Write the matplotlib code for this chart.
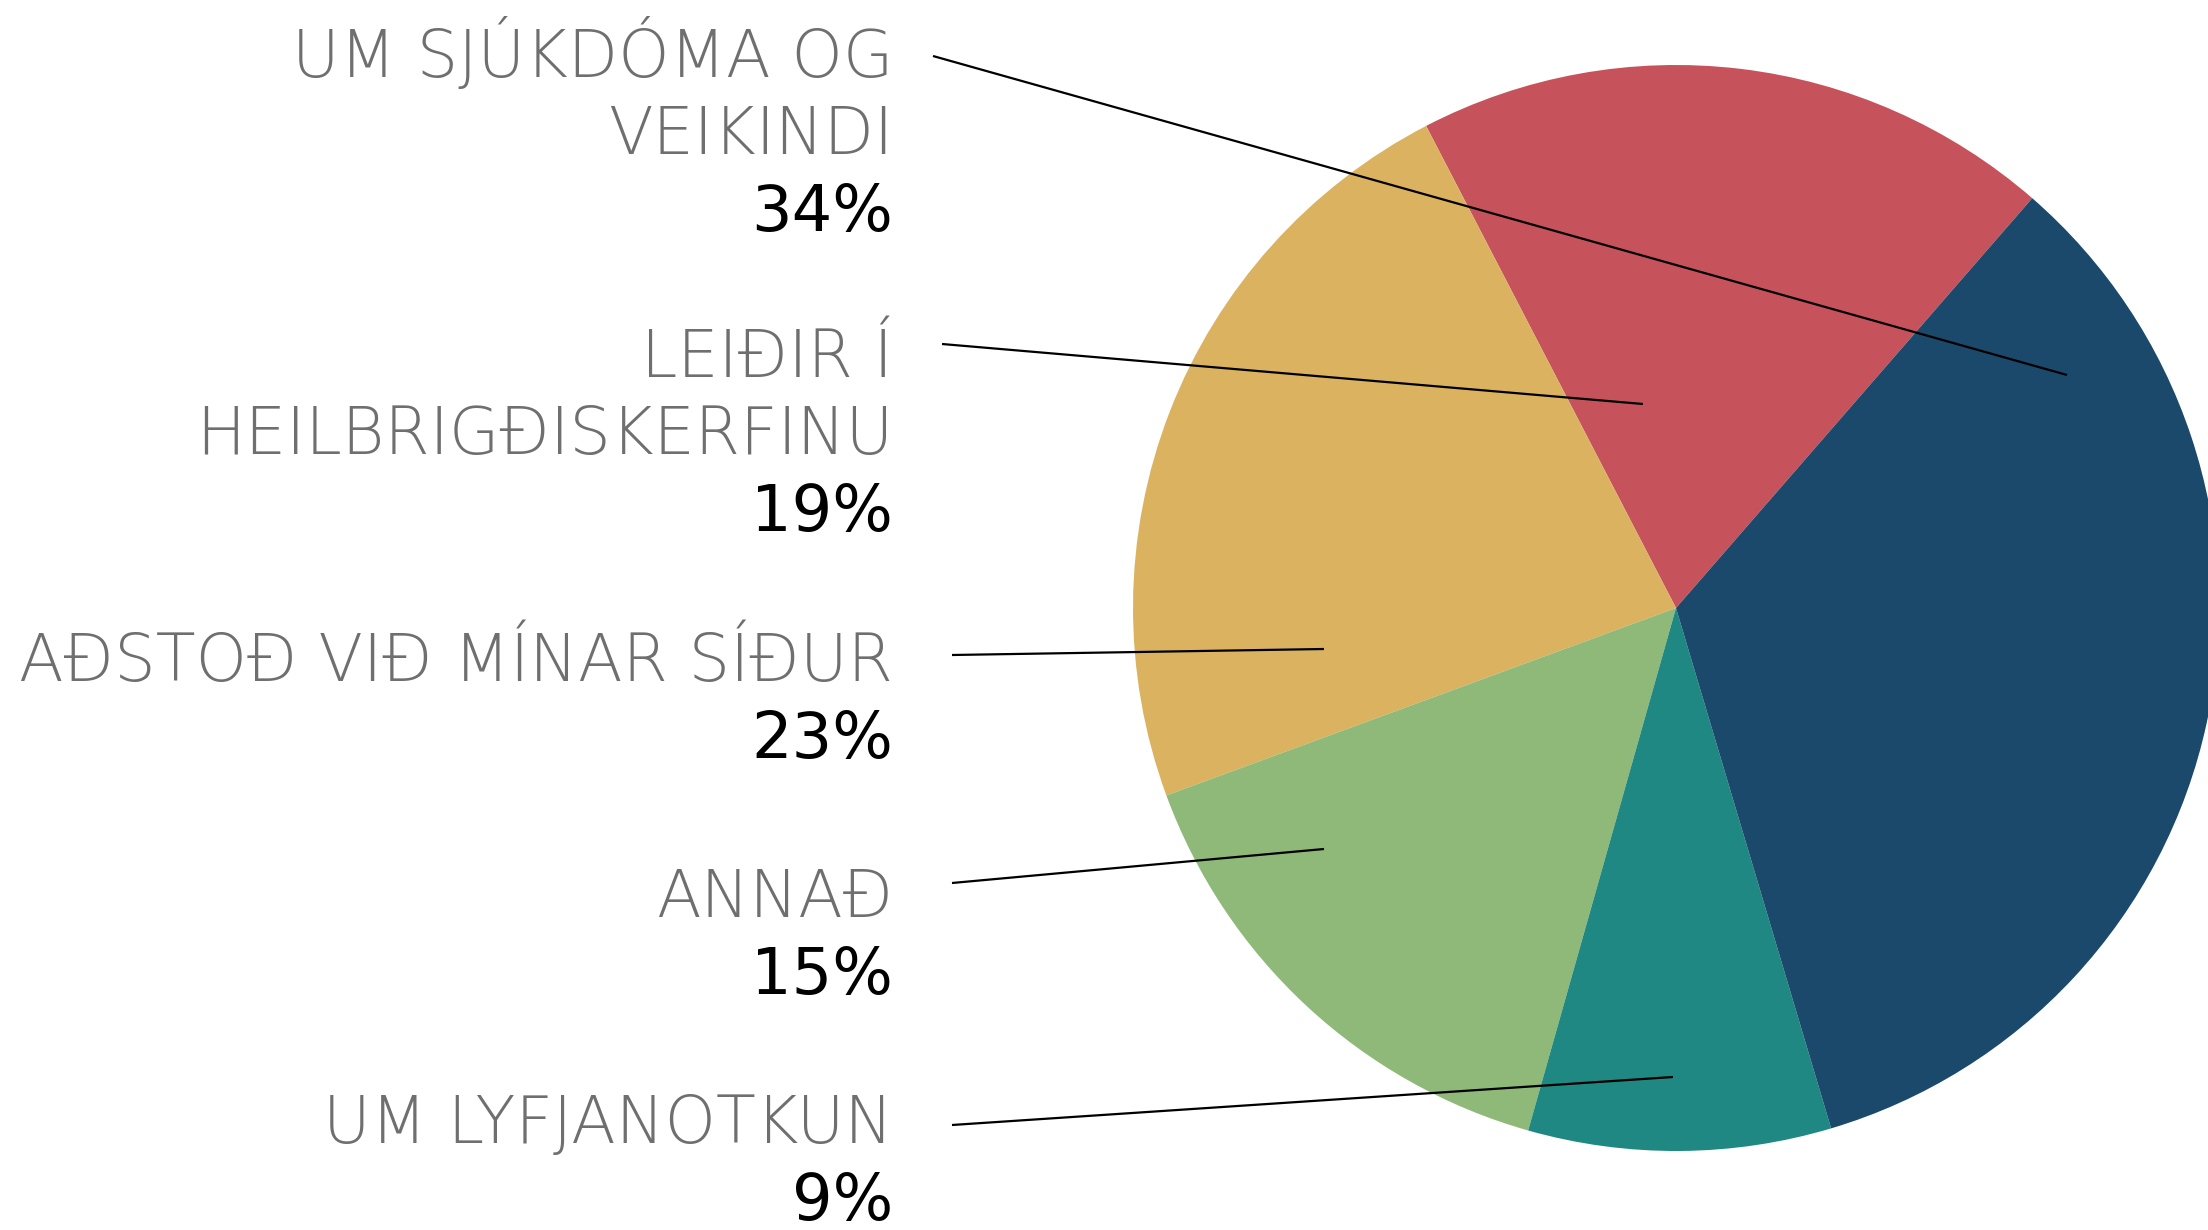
import matplotlib
matplotlib.use("Agg")
import matplotlib.pyplot as plt
import numpy as np

# ---- data (counter-clockwise order starting at the red slice) ----
categories = ["LEIÐIR Í\nHEILBRIGÐISKERFINU", "AÐSTOÐ VIÐ MÍNAR SÍÐUR", "ANNAÐ",
              "UM LYFJANOTKUN", "UM SJÚKDÓMA OG\nVEIKINDI"]
values = [19, 23, 15, 9, 34]
colors = ["#C6535C", "#DBB25F", "#8FB979", "#208882", "#1B496C"]

# label display order (top to bottom) as indices into categories
label_order = [4, 0, 1, 2, 3]

W, H = 2208, 1230
fig = plt.figure(figsize=(W / 100, H / 100), dpi=100)
fig.patch.set_facecolor("white")

# pie axes (pixel layout)
cx, cy, r = 1676, 608, 543
ax = fig.add_axes([(cx - r) / W, (H - cy - r) / H, 2 * r / W, 2 * r / H])
ax.pie(values, colors=colors, startangle=49, counterclock=True,
       wedgeprops=dict(linewidth=0), radius=1)
ax.set_xlim(-1, 1)
ax.set_ylim(-1, 1)
ax.axis("off")

# overlay axes in pixel coordinates for labels and leader lines
ov = fig.add_axes([0, 0, 1, 1], facecolor="none")
ov.set_xlim(0, W)
ov.set_ylim(H, 0)
ov.axis("off")

first_baselines = [77, 377, 681, 917, 1143]
line_starts = [(933, 56), (942, 344), (952, 655), (952, 883), (952, 1125)]
line_ends = [(2067, 375), (1643, 404), (1324, 649), (1324, 849), (1673, 1077)]

text_x = 893
line_gap = 77
fs_label = 47
fs_pct = 46
for k, idx in enumerate(label_order):
    lines = categories[idx].split("\n")
    y = first_baselines[k]
    for ln in lines:
        ov.text(text_x, y, ln, ha="right", va="baseline", fontsize=fs_label,
                color="#6F6F6F", family="DejaVu Sans", fontweight="light")
        y += line_gap
    ov.text(text_x, y, f"{values[idx]}%", ha="right", va="baseline",
            fontsize=fs_pct, color="black", family="DejaVu Sans")
    (x0, y0), (x1, y1) = line_starts[k], line_ends[k]
    ov.plot([x0, x1], [y0, y1], color="black", lw=1.6, solid_capstyle="butt")

fig.savefig("out.png", dpi=100, facecolor="white")
